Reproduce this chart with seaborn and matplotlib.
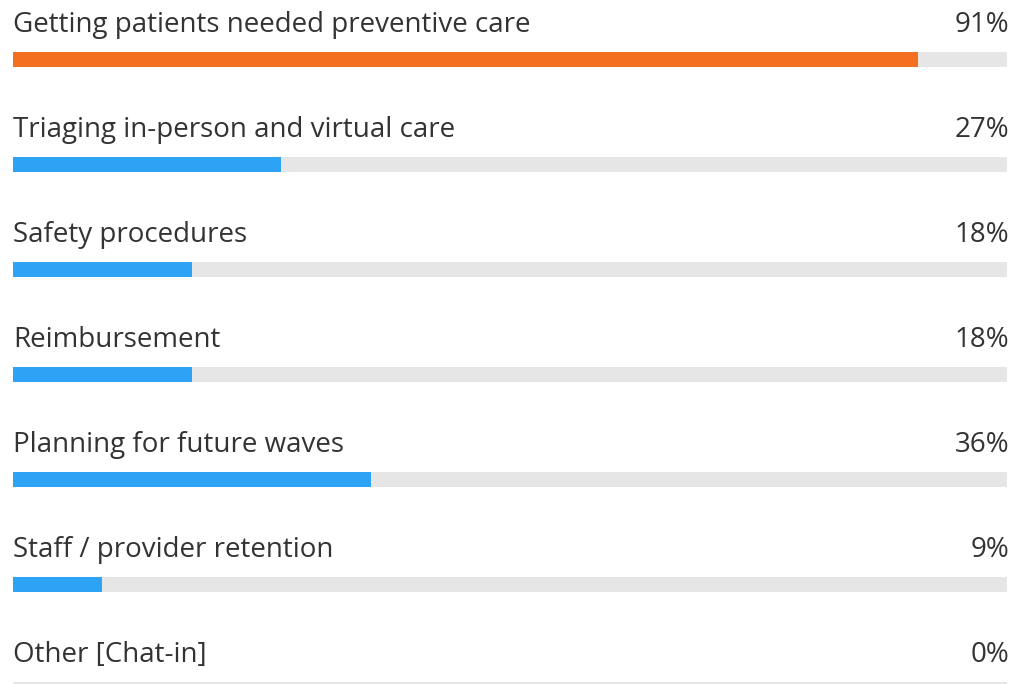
import matplotlib
matplotlib.use("Agg")
import matplotlib.pyplot as plt
import seaborn as sns
import pandas as pd

categories = [
    "Getting patients needed preventive care",
    "Triaging in-person and virtual care",
    "Safety procedures",
    "Reimbursement",
    "Planning for future waves",
    "Staff / provider retention",
    "Other [Chat-in]",
]
values = [91, 27, 18, 18, 36, 9, 0]
bar_colors = ["#F37021", "#2EA3F5", "#2EA3F5", "#2EA3F5", "#2EA3F5", "#2EA3F5", "#2EA3F5"]

df = pd.DataFrame({"label": categories, "pct": values, "track": [100] * len(values)})

sns.set_style("white")
plt.rcParams["font.family"] = ["Open Sans", "DejaVu Sans"]

fig = plt.figure(figsize=(10.13, 6.84), dpi=100)
ax = fig.add_axes([0, 0, 1, 1])

bar_w = 15 / 105
sns.barplot(data=df, x="track", y="label", color="#E6E6E6", width=bar_w,
            orient="h", ax=ax, saturation=1, linewidth=0)
sns.barplot(data=df, x="pct", y="label", hue="label", palette=bar_colors,
            width=bar_w, orient="h", ax=ax, saturation=1, legend=False,
            linewidth=0)

for i, (lab, v) in enumerate(zip(categories, values)):
    ax.text(0, i - 0.262, lab, ha="left", va="baseline", fontsize=20,
            color="#333333")
    ax.text(100.2, i - 0.262, f"{v}%", ha="right", va="baseline", fontsize=20,
            color="#333333")

ax.set_xlim(-13 / 9.94, 100 + 6 / 9.94)
ax.set_ylim((684 - 59.5) / 105, -59.5 / 105)
ax.axis("off")

fig.savefig("out.png", dpi=100)
